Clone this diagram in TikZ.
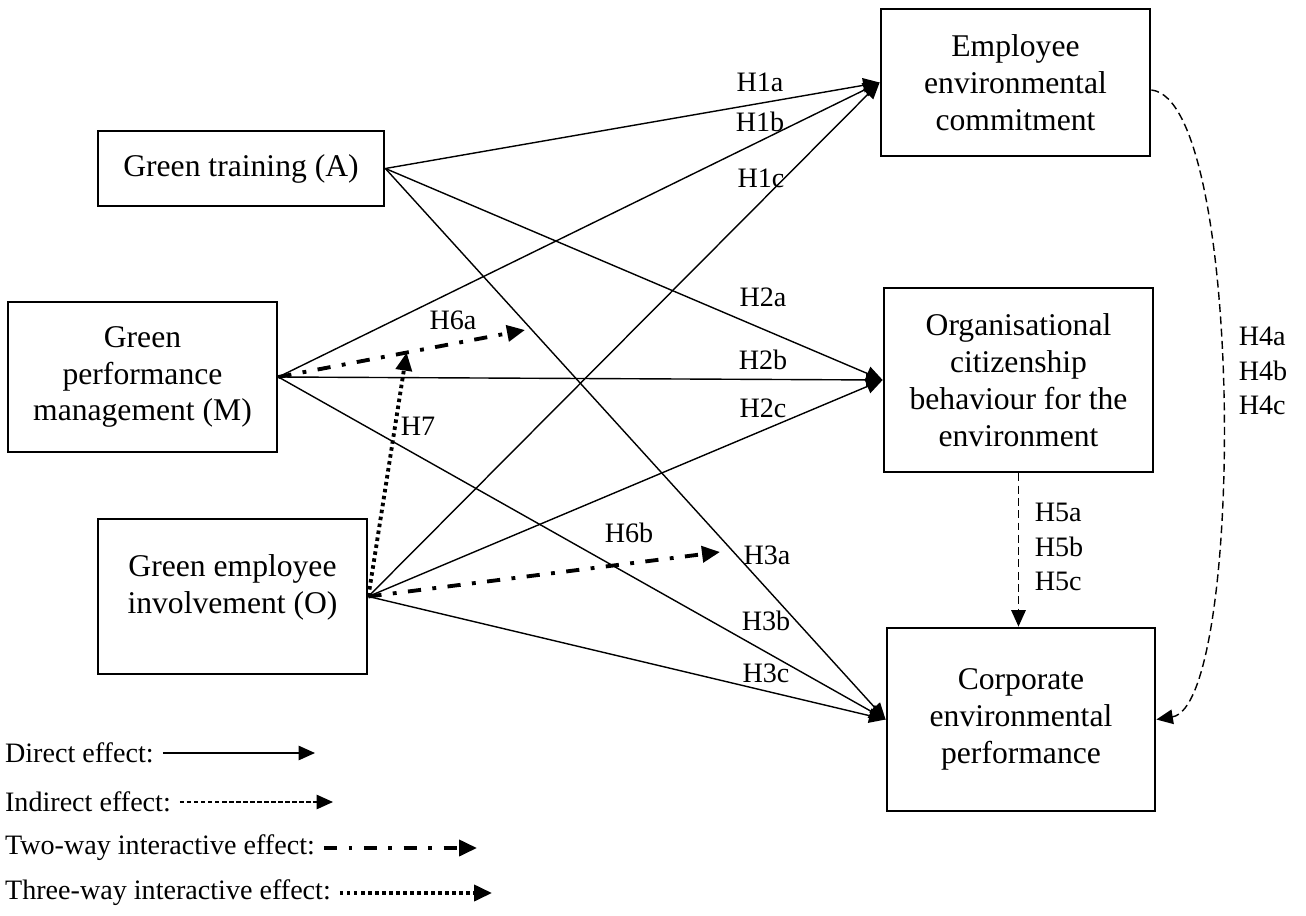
\documentclass[tikz,border=0pt]{standalone}
\usepackage{fontspec}
\setmainfont{Liberation Serif}
\usetikzlibrary{arrows.meta,calc}

\begin{document}
\begin{tikzpicture}[x=0.02cm,y=-0.02cm,
    box/.style={draw,line width=1.6pt,align=center,inner sep=0pt,font=\fontsize{18}{21}\selectfont},
    hyp/.style={font=\fontsize{16}{19.5}\selectfont,inner sep=1pt},
    direct/.style={line width=0.8pt,-{Triangle[length=3.3mm,width=2.9mm]}},
    indirect/.style={line width=0.8pt,dash pattern=on 4.5pt off 2.5pt,-{Triangle[length=3.3mm,width=2.9mm]}},
    twoway/.style={line width=2.2pt,dash pattern=on 7.5pt off 6.5pt on 2.2pt off 6.5pt,-{Triangle[length=3.6mm,width=3.2mm]}},
    threeway/.style={line width=2.2pt,dash pattern=on 2pt off 2pt,-{Triangle[length=3.6mm,width=3.2mm]}}]
  \useasboundingbox (0,0) rectangle (1306,916);
  \node[box,minimum width=5.72cm,minimum height=1.5cm] (gt) at (241,168.5) {Green training (A)};
  \node[box,minimum width=5.38cm,minimum height=3cm] (gpm) at (142.5,377) {Green\\performance\\management (M)};
  \node[box,minimum width=5.38cm,minimum height=3.1cm,text depth=14pt] (gei) at (232.5,596.5) {Green employee\\involvement (O)};
  \node[box,minimum width=5.38cm,minimum height=2.94cm] (eec) at (1015.5,82.5) {Employee\\environmental\\commitment};
  \node[box,minimum width=5.38cm,minimum height=3.68cm] (ocb) at (1018.5,380) {Organisational\\citizenship\\behaviour for the\\environment};
  \node[box,minimum width=5.36cm,minimum height=3.66cm] (cep) at (1021,719.5) {Corporate\\environmental\\performance};
  \foreach \s in {gt,gpm,gei}
    \foreach \t in {eec,ocb,cep}
      \draw[direct] (\s.east) -- (\t.west);
  \coordinate (h6aend) at (525,330);
  \coordinate (h6bend) at (720,552);
  \draw[twoway] (gpm.east) -- (h6aend);
  \draw[twoway] (gei.east) -- (h6bend);
  \draw[threeway] (gei.east) -- ($(gpm.east)!0.52!(h6aend)$);
  \draw[indirect] ([yshift=-0.15cm]eec.east) .. controls (1245,100) and (1245,705) .. (cep.east);
  \draw[indirect] (ocb.south) -- (ocb.south |- cep.north);
  \node[hyp] (h1a) at (760,82) {H1a};
  \node[hyp] (h1b) at (760,122) {H1b};
  \node[hyp] (h1c) at (761,178) {H1c};
  \node[hyp] (h2a) at (763,297) {H2a};
  \node[hyp] (h2b) at (763,360) {H2b};
  \node[hyp] (h2c) at (763,408) {H2c};
  \node[hyp] (h3a) at (767,555) {H3a};
  \node[hyp] (h3b) at (766,621) {H3b};
  \node[hyp] (h3c) at (766,673) {H3c};
  \node[hyp,align=left] (h4) at (1263,371) {H4a\\H4b\\H4c};
  \node[hyp,align=left] (h5) at (1059,547) {H5a\\H5b\\H5c};
  \node[hyp] (h6a) at (453,320) {H6a};
  \node[hyp] (h6b) at (629,533) {H6b};
  \node[hyp] (h7) at (418,426) {H7};
  \node[hyp,anchor=west] (ldirect) at (3,753) {Direct effect:};
  \node[hyp,anchor=west] (lindirect) at (3,802) {Indirect effect:};
  \node[hyp,anchor=west] (ltwoway) at (3,848) {Two-way interactive effect:};
  \node[hyp,anchor=west] (lthreeway) at (3,893) {Three-way interactive effect:};
  \coordinate (ldirectend) at (315,753);
  \coordinate (lindirectend) at (333,802);
  \coordinate (ltwowayend) at (477,848);
  \coordinate (lthreewayend) at (492,893);
  \draw[direct] ([xshift=4pt]ldirect.east) -- (ldirectend);
  \draw[indirect,dash pattern=on 2.5pt off 1.5pt] ([xshift=4pt]lindirect.east) -- (lindirectend);
  \draw[twoway] ([xshift=4pt]ltwoway.east) -- (ltwowayend);
  \draw[threeway] ([xshift=4pt]lthreeway.east) -- (lthreewayend);
\end{tikzpicture}
\end{document}
